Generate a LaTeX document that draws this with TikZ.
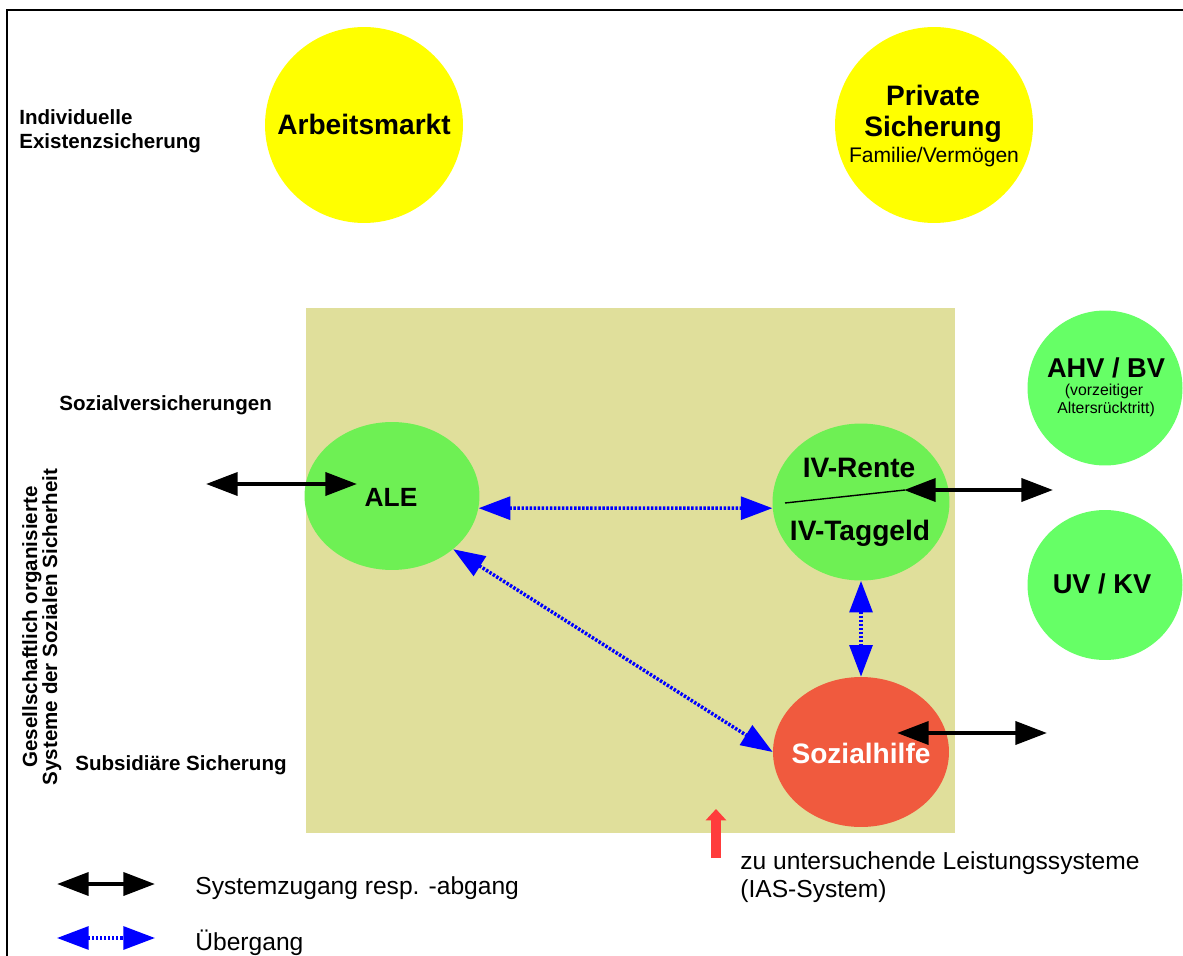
\documentclass[tikz,border=0pt]{standalone}
\usepackage{fontspec}
\setmainfont{Liberation Sans}
\usetikzlibrary{arrows.meta,shapes.geometric}
\definecolor{sonne}{RGB}{255,255,0}
\definecolor{sand}{RGB}{224,223,155}
\definecolor{gruen}{RGB}{110,240,84}
\definecolor{hellgruen}{RGB}{102,255,102}
\definecolor{ziegel}{RGB}{240,90,62}
\definecolor{signal}{RGB}{255,60,60}
\def\schrift#1{\fontsize{#1}{#1}\selectfont}
\tikzset{
	kopf/.tip={Triangle[length=18pt,width=13pt]},
	kreis/.style={ellipse,inner sep=0pt,draw=none},
	titel/.style={anchor=base,inner sep=0pt,font=\bfseries\schrift{16}},
	rubrik/.style={anchor=base west,inner sep=0pt,font=\bfseries\schrift{11.7}},
	legende/.style={anchor=base west,inner sep=0pt,font=\schrift{14}},
	zugang/.style={kopf-kopf,line width=2.4pt},
	uebergang/.style={kopf-kopf,blue,line width=2pt,dash pattern=on 1.4pt off 0.9pt}
}

\begin{document}
\begin{tikzpicture}[x=0.02cm,y=-0.02cm]
		%%%%% START %%%%%
		\useasboundingbox (0,0) rectangle (1183,956);
		\draw[line width=1.6pt] (7,956) -- (7,10) -- (1183,10);
		
		\fill[sand] (306,308) rectangle (955,833);
		
		% obere Ebene
		\node[kreis,fill=sonne,minimum width=3.96cm,minimum height=3.92cm] (arbeit) at (364,125) {};
		\node[titel] (arbeitT) at (364,135) {Arbeitsmarkt};
		\node[kreis,fill=sonne,minimum width=3.96cm,minimum height=3.92cm] (privat) at (934,125) {};
		\node[titel] (privatA) at (933,106) {Private};
		\node[titel] (privatB) at (933,137) {Sicherung};
		\node[titel,font=\schrift{12}] (privatC) at (934,163) {Familie/Vermögen};
		
		% Leistungssysteme
		\node[kreis,fill=gruen,minimum width=3.5cm,minimum height=2.96cm] (ale) at (392,496) {};
		\node[titel,font=\bfseries\schrift{15}] (aleT) at (391,506) {ALE};
		\node[kreis,fill=gruen,minimum width=3.54cm,minimum height=3.14cm] (iv) at (861,502) {};
		\node[titel] (ivA) at (859,477) {IV-Rente};
		\node[titel] (ivB) at (860,540) {IV-Taggeld};
		\draw[line width=0.8pt] (785,503) -- (905,490);
		\node[kreis,fill=ziegel,minimum width=3.52cm,minimum height=3cm] (sh) at (861,752) {};
		\node[titel,white] (shT) at (861,763) {Sozialhilfe};
		
		\node[kreis,fill=hellgruen,minimum width=3.1cm,minimum height=3.1cm] (ahv) at (1105,388) {};
		\node[titel,font=\bfseries\schrift{15.5}] (ahvA) at (1106,377) {AHV / BV};
		\node[titel,font=\schrift{9}] (ahvB) at (1104,395) {(vorzeitiger};
		\node[titel,font=\schrift{9}] (ahvC) at (1106,413) {Altersrücktritt)};
		\node[kreis,fill=hellgruen,minimum width=3.1cm,minimum height=3cm] (uv) at (1105,585) {};
		\node[titel,font=\bfseries\schrift{15.5}] (uvT) at (1102,593) {UV / KV};
		
		% Zugang und Abgang
		\coordinate (aleAus) at (206,484);
		\coordinate (aleEin) at (357,484);
		\coordinate (ivEin) at (904,490);
		\coordinate (ivAus) at (1053,490);
		\coordinate (shEin) at (897,733);
		\coordinate (shAus) at (1047,733);
		\draw[zugang] (aleAus) -- (aleEin);
		\draw[zugang] (ivEin) -- (ivAus);
		\draw[zugang] (shEin) -- (shAus);
		
		% Uebergaenge
		\draw[uebergang] (ale.-8) -- (iv.184);
		\draw[uebergang] (ale.-41) -- (sh.180);
		\draw[uebergang] (iv.south) -- (sh.north);
		
		% Beschriftung links
		\node[rubrik] (indivA) at (19,125) {Individuelle};
		\node[rubrik] (indivB) at (19,149) {Existenzsicherung};
		\node[rubrik] (sozvers) at (59,410) {Sozialversicherungen};
		\node[rubrik] (subsid) at (75,770) {Subsidiäre Sicherung};
		\node[rubrik,anchor=base,rotate=90] (gesA) at (37,627) {Gesellschaftlich organisierte};
		\node[rubrik,anchor=base,rotate=90] (gesB) at (57,627) {Systeme der Sozialen Sicherheit};
		
		% IAS-System
		\coordinate (iasFuss) at (716,858);
		\coordinate (iasSpitze) at (716,809);
		\draw[signal,line width=5.7pt,-{Triangle[length=6.5pt,width=11.5pt]}] (iasFuss) -- (iasSpitze);
		\node[legende] (iasA) at (740,869) {zu untersuchende Leistungssysteme};
		\node[legende] (iasB) at (740,897) {(IAS-System)};
		
		% Legende
		\coordinate (legZa) at (57,884);
		\coordinate (legZb) at (155,884);
		\coordinate (legUa) at (57,938);
		\coordinate (legUb) at (155,938);
		\draw[zugang] (legZa) -- (legZb);
		\draw[uebergang] (legUa) -- (legUb);
		\node[legende] (legZ) at (195,894) {Systemzugang resp. -abgang};
		\node[legende] (legU) at (195,950) {Übergang};
		%%%%% END %%%%%
	\end{tikzpicture}
\end{document}
